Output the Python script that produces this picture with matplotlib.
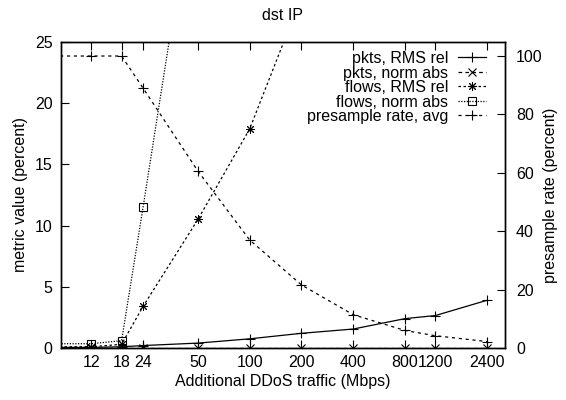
import matplotlib
matplotlib.use('Agg')
import matplotlib.pyplot as plt
from matplotlib.ticker import FixedLocator, NullLocator

plt.rcParams['font.family'] = ['Liberation Sans', 'DejaVu Sans']

# traffic levels (Mbps); the first one sits left of the axis and only feeds the lines
traffic = [6, 12, 18, 24, 50, 100, 200, 400, 800, 1200, 2400]
tick_labels = ['12', '18', '24', '50', '100', '200', '400', '800', '1200', '2400']

pkts_rms_rel = [0.05, 0.05, 0.1, 0.2, 0.4, 0.75, 1.2, 1.55, 2.4, 2.65, 3.9]
pkts_norm_abs = [0.02, 0.02, 0.02, 0.02, 0.02, 0.02, 0.02, 0.02, 0.02, 0.02, 0.02]
flows_rms_rel = [0.1, 0.1, 0.3, 3.4, 10.5, 17.9, 28.7, 45.0, 60.0, 70.0, 80.0]
flows_norm_abs = [0.35, 0.35, 0.6, 11.5, 40.0, 60.0, 75.0, 85.0, 90.0, 92.0, 95.0]
presample_avg = [100, 100, 100, 89, 60.6, 37, 21.6, 11.4, 6.0, 4.2, 2.2]

fs = 11.5
fig = plt.figure(figsize=(5.66, 4.0), dpi=100)
ax = fig.add_axes([61 / 566, 52 / 400, 444 / 566, 306 / 400])
ax2 = ax.twinx()

lw = 0.9
l1, = ax.plot(traffic, pkts_rms_rel, color='black', lw=lw, ls='-',
              marker='+', ms=7, mew=0.8, label='pkts, RMS rel')
l2, = ax.plot(traffic, pkts_norm_abs, color='black', lw=lw, ls=(0, (3, 2.5)),
              marker='x', ms=6, mew=0.8, label='pkts, norm abs')
l3, = ax.plot(traffic, flows_rms_rel, color='black', lw=lw, ls=(0, (2, 2)),
              marker=(8, 2, 0), ms=6.5, mew=0.7, label='flows, RMS rel')
l4, = ax.plot(traffic, flows_norm_abs, color='black', lw=lw, ls=(0, (1, 1.2)),
              marker='s', ms=6, mew=0.8, mfc='none', label='flows, norm abs')
l5, = ax2.plot(traffic, presample_avg, color='black', lw=lw, ls=(0, (2.5, 3)),
               marker='+', ms=7, mew=0.8, label='presample rate, avg')

ax.set_xscale('log')
ax.set_xlim(8, 3050)
ax.set_ylim(0, 25)
ax2.set_ylim(0, 104.8)

ax.xaxis.set_major_locator(FixedLocator(traffic[1:]))
ax.xaxis.set_minor_locator(NullLocator())
ax.set_xticklabels(tick_labels)
ax.set_yticks([0, 5, 10, 15, 20, 25])
ax2.set_yticks([0, 20, 40, 60, 80, 100])

ax.tick_params(axis='x', direction='in', top=True, length=6, width=0.8,
               labelsize=fs, pad=5)
ax.tick_params(axis='y', direction='in', length=6, width=0.8, labelsize=fs, pad=6)
ax2.tick_params(axis='y', direction='in', length=6, width=0.8, labelsize=fs, pad=8)

for a in (ax, ax2):
    for s in a.spines.values():
        s.set_linewidth(1.0)

ax.set_xlabel('Additional DDoS traffic (Mbps)', fontsize=fs, labelpad=3)
ax.set_ylabel('metric value (percent)', fontsize=fs, labelpad=5)
ax2.set_ylabel('presample rate (percent)', fontsize=fs, labelpad=0)
fig.text(0.5, 1 - 16 / 400, 'dst IP', ha='center', va='center', fontsize=fs)

leg = ax2.legend(handles=[l1, l2, l3, l4, l5], loc='upper right',
                 bbox_to_anchor=(486 / 566, 1 - 51 / 400),
                 bbox_transform=fig.transFigure, frameon=False,
                 markerfirst=False, fontsize=fs, handlelength=1.75,
                 handletextpad=0.6, labelspacing=-0.03, borderaxespad=0,
                 borderpad=0)
for t in leg.get_texts():
    t.set_ha('right')

fig.savefig('out.png', dpi=100)
